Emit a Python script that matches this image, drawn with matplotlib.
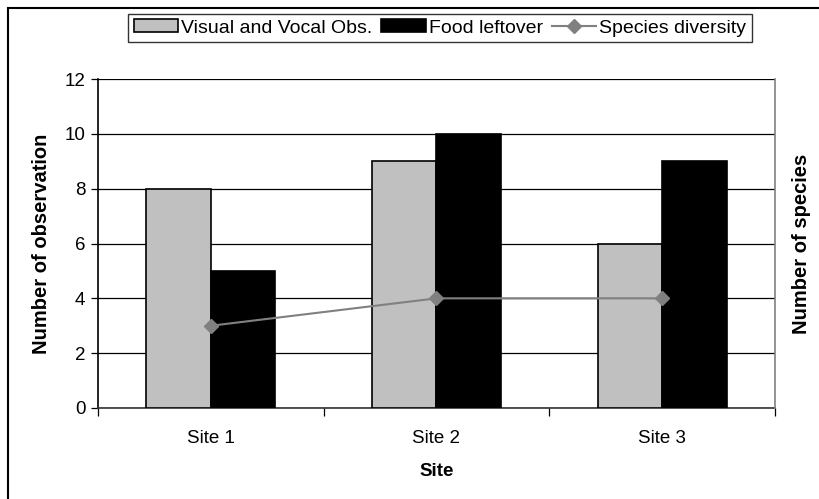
import matplotlib
matplotlib.use("Agg")
import matplotlib.pyplot as plt
from matplotlib.patches import Rectangle
import numpy as np

plt.rcParams['font.family'] = ['Liberation Sans', 'DejaVu Sans']

sites = ["Site 1", "Site 2", "Site 3"]
visual_vocal = [8, 9, 6]
food_leftover = [5, 10, 9]
species_diversity = [3, 4, 4]
y_ticks = [0, 2, 4, 6, 8, 10, 12]

fig = plt.figure(figsize=(8.2, 4.99), dpi=100)
ax = fig.add_axes([98/820, 1-408/499, (775-98)/820, (408-79)/499])

x = np.arange(len(sites))
w = 1/3.5
b1 = ax.bar(x - w/2, visual_vocal, w, color='#C0C0C0', edgecolor='black', linewidth=1.2,
            label='Visual and Vocal Obs.', zorder=3)
b2 = ax.bar(x + w/2, food_leftover, w, color='black', edgecolor='black', linewidth=1.2,
            label='Food leftover', zorder=3)

ax.set_xlim(-0.5, 2.5)
ax.set_ylim(0, 12)
ax.set_yticks(y_ticks)
ax.yaxis.grid(True, color='black', linewidth=0.9, zorder=0)
ax.set_axisbelow(True)
ax.set_xticks(x)
ax.set_xticklabels(sites)
ax.set_xticks([-0.5, 0.5, 1.5, 2.5], minor=True)
ax.tick_params(axis='x', which='major', length=0, pad=15.5, labelsize=13.5)
ax.tick_params(axis='x', which='minor', length=6, direction='out', width=0.9, color='black')
ax.tick_params(axis='y', length=5, direction='out', width=0.9, labelsize=13.5, pad=4)
ax.spines['top'].set_visible(False)
ax.spines['right'].set_visible(False)
ax.spines['left'].set_linewidth(1.2)
ax.spines['bottom'].set_linewidth(1.2)
ax.spines['bottom'].set_color('#333333')
ax.set_xlabel('Site', fontweight='bold', fontsize=13.5, labelpad=12)
ax.set_ylabel('Number of observation', fontweight='bold', fontsize=14.5, labelpad=10)

ax2 = ax.twinx()
ax2.set_ylim(0, 12)
ax2.set_yticks([])
for s in ['top', 'left', 'bottom']:
    ax2.spines[s].set_visible(False)
ax2.spines['right'].set_color('#808080')
ax2.spines['right'].set_linewidth(1.2)
l1, = ax2.plot(x, species_diversity, color='#808080', linewidth=1.5, marker='D',
               markersize=7, markerfacecolor='#808080', markeredgecolor='#808080',
               label='Species diversity', zorder=5)
ax2.set_ylabel('Number of species', fontweight='bold', fontsize=14.5, labelpad=12)

leg = fig.legend([b1, b2, l1], ['Visual and Vocal Obs.', 'Food leftover', 'Species diversity'],
                 loc='center', bbox_to_anchor=(440/820, 1-28/499), ncol=3, frameon=True,
                 fancybox=False, edgecolor='black', fontsize=14, handlelength=2.3,
                 handleheight=0.6, handletextpad=0.15, columnspacing=0.45, borderpad=0.3,
                 borderaxespad=0)
leg.get_frame().set_linewidth(1.0)

fig.patches.append(Rectangle((8/820, -0.2), 1.2, 1.2 - 8/499, transform=fig.transFigure,
                             fill=False, edgecolor='black', linewidth=1.5))

fig.savefig('out.png', dpi=100)
